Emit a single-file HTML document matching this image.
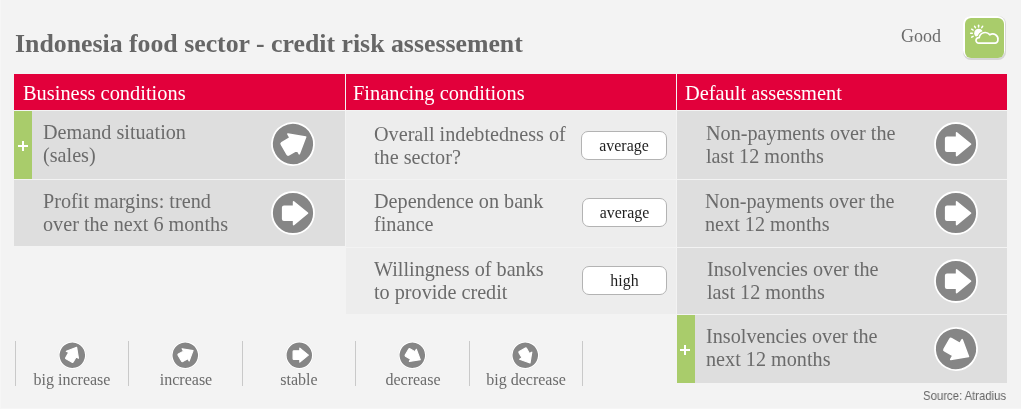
<!DOCTYPE html>
<html><head><meta charset="utf-8">
<style>
*{margin:0;padding:0;box-sizing:border-box}
html,body{width:1021px;height:409px;overflow:hidden;background:#f3f3f3}
.edge{position:absolute;background:#f6f6f6}
body{position:relative;font-family:"Liberation Serif",serif;color:#6b6b6b}
.a{position:absolute;white-space:nowrap;will-change:transform}
svg{overflow:visible}
.title{left:15px;top:29px;font-size:25.8px;font-weight:bold;line-height:30px;color:#666}
.hdr{top:74px;height:36px;background:#e2003b}
.ht{position:absolute;color:#fff;font-size:20.4px;line-height:24px;top:6.5px}
.cell{background:#dedede}
.c2{background:#ededed}
.txt{font-size:20.2px;line-height:23px}
.green{background:#a9cc6b}
.plus{position:absolute;background:#fff}
.pill{position:absolute;will-change:transform;background:#fff;border:1px solid #b3b3b3;border-radius:7px;font-size:15.9px;color:#1e1e1e;text-align:center;line-height:27.5px}
.vl{position:absolute;top:341px;height:45px;width:1px;background:#c9c9c9}
.lt{position:absolute;will-change:transform;top:369px;font-size:16px;line-height:22px;text-align:center;width:110px}
</style></head><body>
<svg width="0" height="0" style="position:absolute">
<defs>
<symbol id="ic" viewBox="-22 -22 44 44">
<circle cx="0" cy="0" r="21" fill="#868686" stroke="#fff" stroke-width="1.8"/>
<path d="M-9 -6.8 L0.6 -6.8 L0.6 -11.2 L14.5 0.2 L0.6 11.6 L0.6 7.3 L-9 7.3 Q-10.3 7.3 -10.3 6 L-10.3 -5.5 Q-10.3 -6.8 -9 -6.8 Z" fill="#fff" stroke="#fff" stroke-width="1.6" stroke-linejoin="round"/>
</symbol>
<symbol id="ics" viewBox="-22 -22 44 44">
<circle cx="0" cy="0" r="21.5" fill="#dcdcdc"/>
<circle cx="0" cy="0" r="20.5" fill="#868686" stroke="#fff" stroke-width="1.9"/>
<path transform="translate(0.2 -0.5) scale(0.95)" d="M-9 -6.8 L0.6 -6.8 L0.6 -11.2 L14.5 0.2 L0.6 11.6 L0.6 7.3 L-9 7.3 Q-10.3 7.3 -10.3 6 L-10.3 -5.5 Q-10.3 -6.8 -9 -6.8 Z" fill="#fff" stroke="#fff" stroke-width="1.8" stroke-linejoin="round"/>
</symbol>
</defs>
</svg>

<div class="edge" style="left:0;top:0;width:1px;height:409px"></div>
<div class="edge" style="left:0;top:408px;width:1021px;height:1px"></div>
<div class="a title">Indonesia food sector - credit risk assessement</div>
<div class="a" style="left:901px;top:25px;font-size:18px;line-height:22px">Good</div>
<div class="a" style="left:962.6px;top:15.6px;width:43.2px;height:43.6px;border-radius:8px;background:#d6d6d6"></div>
<div class="a" style="left:963.4px;top:16.4px;width:41.6px;height:42px;border-radius:7.5px;background:#fff"></div>
<div class="a" style="left:964.6px;top:17.6px;width:39.4px;height:39.8px;border-radius:6px;background:#a9cc6b"></div>
<svg class="a" style="left:962px;top:15px" width="44" height="44" viewBox="0 0 44 44">
<g stroke="#fff" stroke-width="1.5" stroke-linecap="round" fill="none"><line x1="11.14" y1="21.35" x2="9.67" y2="22.20"/><line x1="10.30" y1="18.20" x2="8.60" y2="18.20"/><line x1="11.14" y1="15.05" x2="9.67" y2="14.20"/><line x1="13.45" y1="12.74" x2="12.60" y2="11.27"/><line x1="16.60" y1="11.90" x2="16.60" y2="10.20"/><line x1="19.75" y1="12.74" x2="20.60" y2="11.27"/></g>
<circle cx="16.6" cy="18.2" r="4.4" fill="#fff"/>
<path d="M17 28.1 H33 A3 3 0 0 0 35.9 25 A5.2 5.2 0 0 0 27.8 19.8 A6 6 0 0 0 17.2 22.6 A2.8 2.8 0 0 0 14 25.3 A2.8 2.8 0 0 0 17 28.1 Z" fill="#a9cc6b" stroke="#a9cc6b" stroke-width="3.6" stroke-linejoin="round"/>
<path d="M17 28.1 H33 A3 3 0 0 0 35.9 25 A5.2 5.2 0 0 0 27.8 19.8 A6 6 0 0 0 17.2 22.6 A2.8 2.8 0 0 0 14 25.3 A2.8 2.8 0 0 0 17 28.1 Z" fill="#a9cc6b" stroke="#fff" stroke-width="1.7" stroke-linejoin="round"/>
</svg>

<!-- header -->
<div class="a hdr" style="left:14px;width:331px"><span class="ht" style="left:9px">Business conditions</span></div>
<div class="a hdr" style="left:346px;width:330px"><span class="ht" style="left:7px">Financing conditions</span></div>
<div class="a hdr" style="left:677px;width:330px"><span class="ht" style="left:8px">Default assessment</span></div>

<!-- col1 -->
<div class="a cell" style="left:14px;top:111px;width:331px;height:68px"></div>
<div class="a green" style="left:14px;top:111px;width:18px;height:68px"></div>
<div class="plus" style="left:18px;top:145px;width:10px;height:2.4px"></div>
<div class="plus" style="left:21.8px;top:141px;width:2.4px;height:10px"></div>
<div class="a txt" style="left:43px;top:121px">Demand situation<br>(sales)</div>
<svg class="a" style="left:271px;top:121.5px" width="44" height="44"><use href="#ic" transform="rotate(-30 22 22)"/></svg>

<div class="a cell" style="left:14px;top:180px;width:331px;height:66px"></div>
<div class="a txt" style="left:43px;top:190px">Profit margins: trend<br>over the next 6 months</div>
<svg class="a" style="left:271px;top:190.5px" width="44" height="44"><use href="#ic"/></svg>

<!-- col2 -->
<div class="a c2" style="left:346px;top:111px;width:330px;height:68px"></div>
<div class="a txt" style="left:374px;top:122.5px">Overall indebtedness of<br>the sector?</div>
<div class="pill" style="left:581px;top:131px;width:86px;height:29px">average</div>

<div class="a c2" style="left:346px;top:180px;width:330px;height:67px"></div>
<div class="a txt" style="left:374px;top:190px">Dependence on bank<br>finance</div>
<div class="pill" style="left:582px;top:198px;width:85px;height:29px">average</div>

<div class="a c2" style="left:346px;top:248px;width:330px;height:66px"></div>
<div class="a txt" style="left:374px;top:258px">Willingness of banks<br>to provide credit</div>
<div class="pill" style="left:582px;top:266px;width:85px;height:29px">high</div>

<!-- col3 -->
<div class="a cell" style="left:677px;top:111px;width:330px;height:68px"></div>
<div class="a txt" style="left:706px;top:121.5px">Non-payments over the<br>last 12 months</div>
<svg class="a" style="left:934px;top:121.7px" width="44" height="44"><use href="#ic"/></svg>

<div class="a cell" style="left:677px;top:180px;width:330px;height:67px"></div>
<div class="a txt" style="left:705px;top:190px">Non-payments over the<br>next 12 months</div>
<svg class="a" style="left:934px;top:190.6px" width="44" height="44"><use href="#ic"/></svg>

<div class="a cell" style="left:677px;top:248px;width:330px;height:66px"></div>
<div class="a txt" style="left:707px;top:258px">Insolvencies over the<br>last 12 months</div>
<svg class="a" style="left:934px;top:258.8px" width="44" height="44"><use href="#ic"/></svg>

<div class="a cell" style="left:677px;top:315px;width:330px;height:68px"></div>
<div class="a green" style="left:676.5px;top:315px;width:17.5px;height:68px"></div>
<div class="plus" style="left:679.9px;top:348.6px;width:10px;height:2.4px"></div>
<div class="plus" style="left:683.7px;top:344.9px;width:2.6px;height:10px"></div>
<div class="a txt" style="left:706px;top:325px">Insolvencies over the<br>next 12 months</div>
<svg class="a" style="left:934.2px;top:326.6px" width="44" height="44"><use href="#ic" transform="rotate(30 22 22)"/></svg>

<!-- legend -->
<div class="vl" style="left:15px"></div>
<div class="vl" style="left:128px"></div>
<div class="vl" style="left:242px"></div>
<div class="vl" style="left:355px"></div>
<div class="vl" style="left:469px"></div>
<div class="vl" style="left:582px"></div>

<svg class="a" style="left:58.10px;top:340.7px" width="28.6" height="28.6" viewBox="0 0 44 44"><use href="#ics" transform="rotate(-60 22 22)"/></svg>
<svg class="a" style="left:171.35px;top:340.7px" width="28.6" height="28.6" viewBox="0 0 44 44"><use href="#ics" transform="rotate(-30 22 22)"/></svg>
<svg class="a" style="left:284.70px;top:340.7px" width="28.6" height="28.6" viewBox="0 0 44 44"><use href="#ics"/></svg>
<svg class="a" style="left:398.20px;top:340.7px" width="28.6" height="28.6" viewBox="0 0 44 44"><use href="#ics" transform="rotate(30 22 22)"/></svg>
<svg class="a" style="left:511.30px;top:340.7px" width="28.6" height="28.6" viewBox="0 0 44 44"><use href="#ics" transform="rotate(60 22 22)"/></svg>

<div class="lt" style="left:17px">big increase</div>
<div class="lt" style="left:131px">increase</div>
<div class="lt" style="left:244px">stable</div>
<div class="lt" style="left:358px">decrease</div>
<div class="lt" style="left:471px">big decrease</div>

<div class="a" style="left:922.6px;top:387.8px;font-family:'Liberation Sans',sans-serif;font-size:12.6px;line-height:16px;color:#666;transform:scaleX(0.9);transform-origin:0 0">Source: Atradius</div>
</body></html>
